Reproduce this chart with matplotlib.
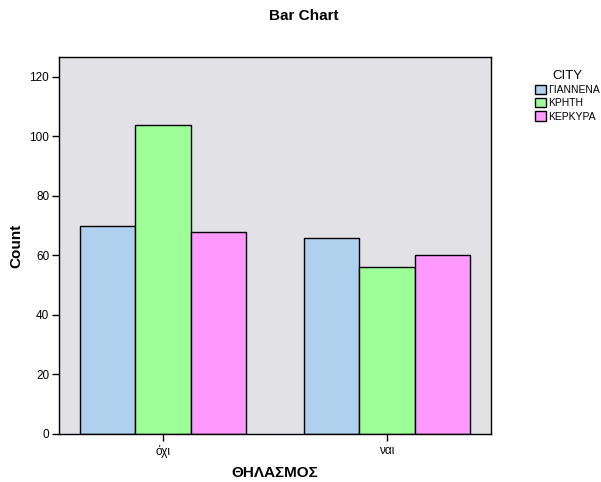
import matplotlib
matplotlib.use("Agg")
import matplotlib.pyplot as plt
import numpy as np
from matplotlib.patches import Patch

categories = ["όχι", "ναι"]
cities = ["ΓΙΑΝΝΕΝΑ", "ΚΡΗΤΗ", "ΚΕΡΚΥΡΑ"]
counts_giannena = [70, 66]
counts_kriti = [104, 56]
counts_kerkyra = [68, 60]
colors = ["#AFD1EE", "#9EFF99", "#FF99FF"]

plt.rcParams["font.family"] = ["Liberation Sans", "DejaVu Sans"]

fig = plt.figure(figsize=(6.01, 4.82), dpi=100)
ax = fig.add_axes([0.0982, 0.0996, 0.7188, 0.7821])
ax.set_facecolor("#E1E1E6")

x = np.arange(len(categories))
w = 0.248
series = [counts_giannena, counts_kriti, counts_kerkyra]
for i, (vals, c) in enumerate(zip(series, colors)):
    ax.bar(x + (i - 1) * w, vals, w, color=c, edgecolor="black", linewidth=1)

ax.set_xlim(-0.464, 1.464)
ax.set_ylim(0, 126.7)
ax.set_yticks(range(0, 121, 20))
ax.set_xticks(x)
ax.set_xticklabels(categories, fontsize=8.5)
ax.tick_params(axis="y", labelsize=8.5, length=5, width=1, pad=2)
ax.tick_params(axis="x", length=5, width=1, pad=3)
for s in ax.spines.values():
    s.set_linewidth(1)

ax.set_ylabel("Count", fontsize=11, fontweight="bold", labelpad=4)
ax.set_xlabel("ΘΗΛΑΣΜΟΣ", fontsize=11, fontweight="bold", labelpad=6)
fig.text(0.505, 0.966, "Bar Chart", ha="center", va="center", fontsize=11, fontweight="bold")

handles = [Patch(facecolor=c, edgecolor="black", label=n) for c, n in zip(colors, cities)]
leg = fig.legend(handles=handles, title="CITY", loc="upper left",
                 bbox_to_anchor=(0.875, 0.875), frameon=False, fontsize=7.5,
                 title_fontsize=9.5, handlelength=1.0, handleheight=1.0,
                 handletextpad=0.25, labelspacing=0.3)

fig.savefig("out.png", dpi=100)
